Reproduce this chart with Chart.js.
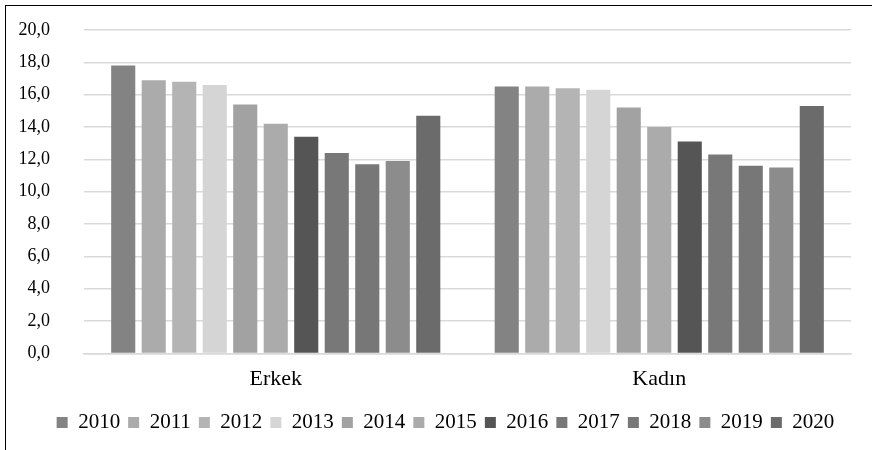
<!DOCTYPE html>
<html>
<head>
<meta charset="utf-8">
<script src="https://cdn.jsdelivr.net/npm/chart.js@4/dist/chart.umd.min.js"></script>
<style>
  html, body { margin: 0; padding: 0; background: #fff; }
  #frame {
    position: absolute; left: 5px; top: 5px;
    width: 867px; height: 445px;
    border-left: 1px solid #000; border-top: 1px solid #000;
  }
  #wrap { position: absolute; left: 0; top: 0; width: 867px; height: 445px; }
</style>
</head>
<body>
<div id="frame"><div id="wrap"><canvas id="chart"></canvas></div></div>
<script>
const categories = ['Erkek', 'Kadın'];
const years = ['2010', '2011', '2012', '2013', '2014', '2015', '2016', '2017', '2018', '2019', '2020'];
// values per year: [Erkek, Kadın]
const erkek = [17.8, 16.9, 16.8, 16.6, 15.4, 14.2, 13.4, 12.4, 11.7, 11.9, 14.7];
const kadin = [16.5, 16.5, 16.4, 16.3, 15.2, 14.0, 13.1, 12.3, 11.6, 11.5, 15.3];
const colors = ['#838383', '#ababab', '#b4b4b4', '#d5d5d5', '#a2a2a2', '#ababab', '#555555', '#787878', '#777777', '#8c8c8c', '#6b6b6b'];
const yTicks = [0, 2, 4, 6, 8, 10, 12, 14, 16, 18, 20];

const serif = "'Liberation Serif', 'Times New Roman', serif";

const datasets = years.map((y, i) => ({
    label: y,
    data: [erkek[i], kadin[i]],
    backgroundColor: colors[i],
    borderWidth: 0,
    barPercentage: 0.79,
    categoryPercentage: 0.875
}));

new Chart(document.getElementById('chart'), {
    type: 'bar',
    data: { labels: categories, datasets: datasets },
    options: {
        responsive: true,
        maintainAspectRatio: false,
        animation: false,
        layout: { padding: { left: 12, right: 0, top: 3, bottom: 8 } },
        plugins: {
            tooltip: { enabled: false },
            legend: {
                position: 'bottom',
                // empty title only used as a spacer above the legend row
                title: { display: true, text: '', font: { size: 1 }, padding: { top: 0, bottom: 5 } },
                labels: {
                    color: '#000',
                    font: { family: serif, size: 21 },
                    boxWidth: 11,
                    boxHeight: 11,
                    padding: 8
                }
            }
        },
        scales: {
            x: {
                grid: { display: false },
                border: { color: '#d9d9d9', width: 1.5 },
                ticks: { color: '#000', font: { family: serif, size: 22 }, padding: 5 }
            },
            y: {
                min: 0,
                max: 20,
                afterBuildTicks: axis => { axis.ticks = yTicks.map(v => ({ value: v })); },
                afterFit: axis => { axis.width = 66; axis.paddingTop = 24; },
                grid: { color: '#d9d9d9', lineWidth: 1.5, drawTicks: false },
                border: { display: false },
                ticks: {
                    color: '#000',
                    font: { family: serif, size: 18 },
                    padding: 34,
                    callback: v => v.toFixed(1).replace('.', ',')
                }
            },
            // empty right-hand spacer so the plot ends where the original does
            y2: {
                position: 'right',
                min: 0,
                max: 20,
                afterFit: axis => { axis.width = 22; axis.paddingTop = 24; },
                grid: { display: false },
                border: { display: false },
                ticks: { display: false }
            }
        }
    }
});
</script>
</body>
</html>
